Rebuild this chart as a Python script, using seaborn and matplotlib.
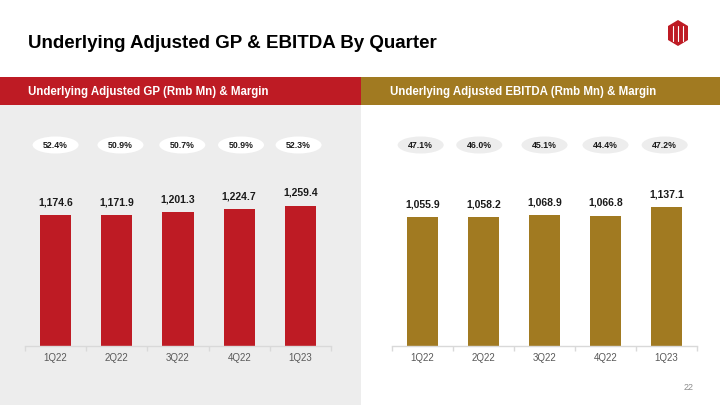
import matplotlib
matplotlib.use("Agg")
import matplotlib.pyplot as plt
import seaborn as sns
import pandas as pd
from matplotlib.patches import Rectangle, Ellipse, Polygon

quarters = ["1Q22", "2Q22", "3Q22", "4Q22", "1Q23"]
gp_values = [1174.6, 1171.9, 1201.3, 1224.7, 1259.4]
gp_margins = ["52.4%", "50.9%", "50.7%", "50.9%", "52.3%"]
ebitda_values = [1055.9, 1058.2, 1068.9, 1066.8, 1137.1]
ebitda_margins = ["47.1%", "46.0%", "45.1%", "44.4%", "47.2%"]

title = "Underlying Adjusted GP & EBITDA By Quarter"
left_header = "Underlying Adjusted GP (Rmb Mn) & Margin"
right_header = "Underlying Adjusted EBITDA (Rmb Mn) & Margin"

RED = "#BE1B24"
GOLD = "#A17A21"
GREY_BG = "#EDEDED"

sns.set_theme(style="white")
plt.rcParams["font.family"] = ["Liberation Sans", "DejaVu Sans"]

W, H = 720, 405
fig = plt.figure(figsize=(7.2, 4.05), dpi=100)
fig.patch.set_facecolor("white")

def fx(px):
    return px / W

def fy(py):
    return 1 - py / H

# background panels
fig.patches.append(Rectangle((0, 0), fx(361), fy(105), transform=fig.transFigure,
                             facecolor=GREY_BG, edgecolor="none", zorder=-2))
fig.patches.append(Rectangle((0, fy(105)), fx(361), (105 - 77) / H, transform=fig.transFigure,
                             facecolor=RED, edgecolor="none", zorder=-1))
fig.patches.append(Rectangle((fx(361), fy(105)), 1 - fx(361), (105 - 77) / H, transform=fig.transFigure,
                             facecolor=GOLD, edgecolor="none", zorder=-1))

fig.text(fx(28), fy(44), title, fontsize=13.5, fontweight="bold", color="black", va="center", ha="left")
fig.text(fx(28), fy(91.5), left_header, fontsize=8.3, fontweight="bold", color="white", va="center", ha="left")
fig.text(fx(390), fy(91.5), right_header, fontsize=8.3, fontweight="bold", color="white", va="center", ha="left")
fig.text(fx(689), fy(387), "22", fontsize=6.5, color="#8C8C8C", va="center", ha="center")

# logo (simple hexagon mark)
cx, cy = 678, 33
hexpts = [(cx - 10, cy - 7), (cx, cy - 13), (cx + 10, cy - 7), (cx + 10, cy + 7), (cx, cy + 13), (cx - 10, cy + 7)]
fig.patches.append(Polygon([(fx(a), fy(b)) for a, b in hexpts], closed=True, transform=fig.transFigure,
                           facecolor=RED, edgecolor="none", zorder=2))
for xo in (-5, 0, 5):
    fig.lines.append(plt.Line2D([fx(cx + xo), fx(cx + xo)], [fy(cy - 7), fy(cy + 8)],
                                transform=fig.transFigure, color="white", lw=0.8, zorder=3))

def make_panel(left_px, right_px, values, margins, color, pxunit, ell_color, ell_offsets):
    base_y = 346
    top_y = 110
    ax = fig.add_axes([fx(left_px), fy(base_y), fx(right_px - left_px), (base_y - top_y) / H])
    ax.set_facecolor("none")
    df = pd.DataFrame({"quarter": quarters, "value": values})
    sns.barplot(data=df, x="quarter", y="value", color=color, width=0.51, ax=ax,
                saturation=1, edgecolor="none")
    ymax = (base_y - top_y) / pxunit
    ax.set_ylim(0, ymax)
    ax.set_xlim(-0.5, len(quarters) - 0.5)
    labels = [f"{v:,.1f}" for v in values]
    ax.bar_label(ax.containers[0], labels=labels, padding=5.5, fontsize=7.5,
                 fontweight="bold", color="#1A1A1A")
    # margin ellipses
    ey = (base_y - 145) / pxunit
    ew = 46 / ((right_px - left_px) / len(quarters))
    eh = 17 / pxunit
    for i, m in enumerate(margins):
        xo = ell_offsets[i]
        ax.add_patch(Ellipse((i + xo, ey), ew, eh, facecolor=ell_color, edgecolor="none", zorder=3))
        ax.text(i + xo, ey, m, ha="center", va="center", fontsize=6.3, fontweight="bold",
                color="#1A1A1A", zorder=4)
    for s in ["top", "left", "right"]:
        ax.spines[s].set_visible(False)
    ax.spines["bottom"].set_color("#D9D9D9")
    ax.spines["bottom"].set_linewidth(1.0)
    ax.set_yticks([])
    ax.set_xlabel("")
    ax.set_ylabel("")
    ax.set_xticks(range(len(quarters)))
    ax.set_xticklabels(quarters)
    ax.set_xticks([i - 0.5 for i in range(len(quarters) + 1)], minor=True)
    ax.tick_params(axis="x", which="major", length=0, pad=5, labelsize=7, labelcolor="#595959")
    ax.tick_params(axis="x", which="minor", length=3.5, width=1.0, color="#D9D9D9", direction="out", bottom=True)
    return ax

make_panel(25, 331, gp_values, gp_margins, RED, 0.1115, "white", [0, 0.06, 0.07, 0.03, -0.03])
make_panel(392, 697, ebitda_values, ebitda_margins, GOLD, 0.1222, GREY_BG, [-0.03, -0.07, 0, 0, -0.03])

fig.savefig("out.png", dpi=100)
